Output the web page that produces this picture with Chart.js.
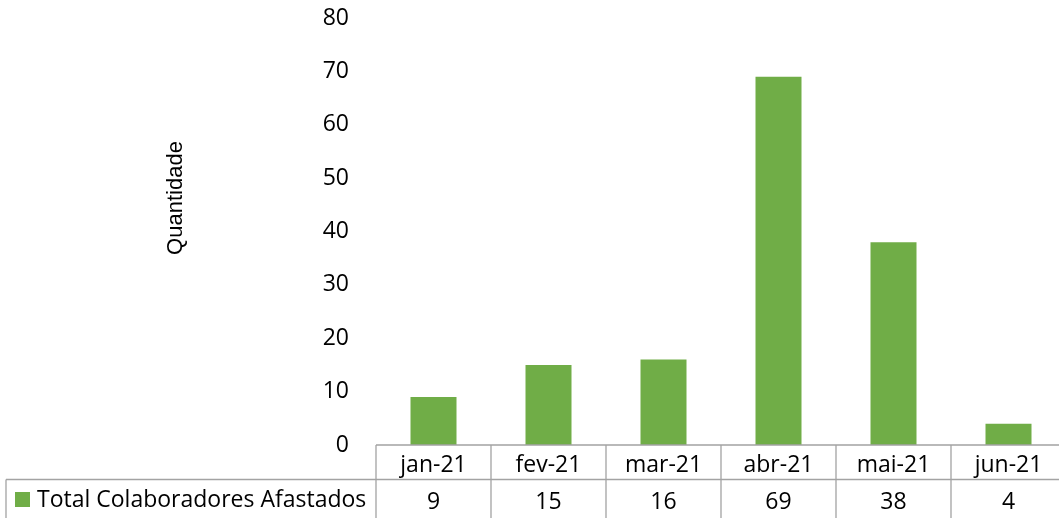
<!DOCTYPE html>
<html>
<head>
<meta charset="utf-8">
<script src="https://cdn.jsdelivr.net/npm/chart.js@4/dist/chart.umd.min.js"></script>
<style>
  html, body { margin: 0; padding: 0; overflow: hidden; background: #ffffff; }
  #wrap { width: 1059px; height: 518px; overflow: hidden; }
  canvas { display: block; }
</style>
</head>
<body>
<div id="wrap"><canvas id="c" width="1066" height="518"></canvas></div>
<script>
const categories = ['jan-21', 'fev-21', 'mar-21', 'abr-21', 'mai-21', 'jun-21'];
const seriesName = 'Total Colaboradores Afastados';
const values = [9, 15, 16, 69, 38, 4];
const yAxisTitle = 'Quantidade';
const yMin = 0, yMax = 80, yStep = 10;

const BAR_COLOR = '#70AD47';
const LINE_COLOR = '#a3a3a3';
const FONT = '"Open Sans", sans-serif';

const tablePlugin = {
  id: 'dataTable',
  afterDraw(chart) {
    const ctx = chart.ctx;
    const xs = chart.scales.x;
    const area = chart.chartArea;
    const n = categories.length;
    const colW = (area.right - area.left) / n;
    const top = area.bottom;
    const rowY = top + 34.5;
    const bottom = chart.height;
    const legendLeft = 6;

    ctx.save();
    ctx.strokeStyle = LINE_COLOR;
    ctx.lineWidth = 1.3;
    ctx.beginPath();
    ctx.moveTo(area.left, top); ctx.lineTo(area.right, top);
    ctx.moveTo(legendLeft, rowY); ctx.lineTo(area.right, rowY);
    ctx.moveTo(legendLeft, rowY); ctx.lineTo(legendLeft, bottom);
    for (let i = 0; i <= n; i++) {
      const x = area.left + i * colW;
      ctx.moveTo(x, top); ctx.lineTo(x, bottom);
    }
    ctx.stroke();

    ctx.fillStyle = '#000000';
    ctx.font = '23px ' + FONT;
    ctx.textAlign = 'center';
    ctx.textBaseline = 'alphabetic';
    categories.forEach((c, i) => {
      const cx = xs.getPixelForValue(i);
      ctx.fillText(c, cx, top + 26.5);
      ctx.fillText(String(values[i]), cx, rowY + 29);
    });

    ctx.fillStyle = BAR_COLOR;
    ctx.fillRect(15, 492, 15, 15);
    ctx.fillStyle = '#000000';
    ctx.textAlign = 'left';
    ctx.fillText(seriesName, 37, rowY + 27.5);

    ctx.translate(176, 198);
    ctx.rotate(-Math.PI / 2);
    ctx.font = '22px "Liberation Sans", Arial, sans-serif';
    ctx.textAlign = 'center';
    ctx.textBaseline = 'middle';
    ctx.fillText(yAxisTitle, 0, 0);
    ctx.restore();
  }
};

new Chart(document.getElementById('c'), {
  type: 'bar',
  data: {
    labels: categories,
    datasets: [{
      label: seriesName,
      data: values,
      backgroundColor: BAR_COLOR,
      borderWidth: 0,
      categoryPercentage: 1.0,
      barPercentage: 0.4
    }]
  },
  options: {
    responsive: false,
    animation: false,
    devicePixelRatio: 1,
    layout: { padding: { top: 18, bottom: 73, left: 0, right: 0 } },
    plugins: {
      legend: { display: false },
      tooltip: { enabled: false },
      title: { display: false }
    },
    scales: {
      x: {
        type: 'category',
        offset: true,
        display: false
      },
      y: {
        min: yMin,
        max: yMax,
        ticks: {
          stepSize: yStep,
          padding: 27,
          color: '#000000',
          font: { family: FONT, size: 23 }
        },
        grid: { display: false, drawTicks: false },
        border: { display: false },
        afterFit(scale) {
          scale.width = 376;
          scale.paddingTop = 0;
          scale.paddingBottom = 0;
        }
      }
    }
  },
  plugins: [tablePlugin]
});
</script>
</body>
</html>
